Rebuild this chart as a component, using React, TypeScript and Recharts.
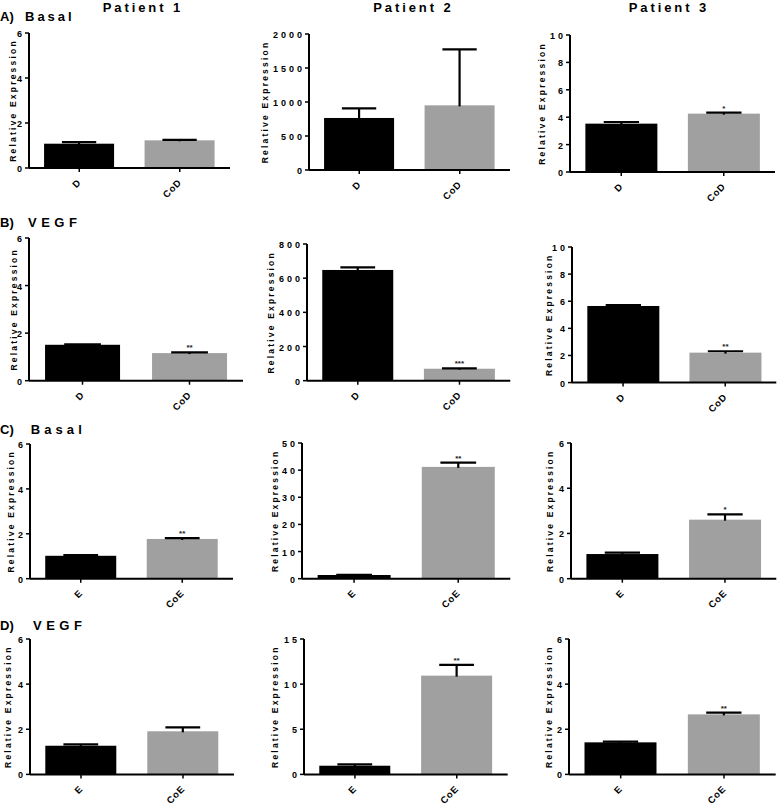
import React from 'react';
import { BarChart, Bar, XAxis, YAxis } from 'recharts';

const FONT = "'Liberation Sans', Arial, Helvetica, sans-serif";

// ---------- text ----------
const patientTitles = ['Patient 1', 'Patient 2', 'Patient 3'];
const rowPrefixes = ['A)', 'B)', 'C)', 'D)'];
const rowTitles = ['Basal', 'VEGF', 'Basal', 'VEGF'];
const yAxisTitle = 'Relative Expression';

// ---------- categories ----------
const categoriesD = ['D', 'CoD'];
const categoriesE = ['E', 'CoE'];

// ---------- Row A: Basal, D vs CoD (Patient 1, 2, 3) ----------
const basalDMean = [[1.08, 1.23], [765, 951], [3.53, 4.26]];
const basalDErr = [[0.07, 0.02], [142, 824], [0.12, 0.07]];
const basalDStars = [['', ''], ['', ''], ['', '*']];
const basalDMax = [6, 2000, 10];
const basalDTicks = [[0, 2, 4, 6], [0, 500, 1000, 1500, 2000], [0, 2, 4, 6, 8, 10]];

// ---------- Row B: VEGF, D vs CoD ----------
const vegfDMean = [[1.51, 1.16], [648, 70], [5.65, 2.21]];
const vegfDErr = [[0.02, 0.03], [15, 2], [0.06, 0.1]];
const vegfDStars = [['', '**'], ['', '***'], ['', '**']];
const vegfDMax = [6, 800, 10];
const vegfDTicks = [[0, 2, 4, 6], [0, 200, 400, 600, 800], [0, 2, 4, 6, 8, 10]];

// ---------- Row C: Basal, E vs CoE ----------
const basalEMean = [[1.02, 1.77], [1.36, 41.2], [1.09, 2.61]];
const basalEErr = [[0.03, 0.04], [0.1, 1.6], [0.06, 0.23]];
const basalEStars = [['', '**'], ['', '**'], ['', '*']];
const basalEMax = [6, 50, 6];
const basalETicks = [[0, 2, 4, 6], [0, 10, 20, 30, 40, 50], [0, 2, 4, 6]];

// ---------- Row D: VEGF, E vs CoE ----------
const vegfEMean = [[1.27, 1.91], [0.96, 10.94], [1.42, 2.66]];
const vegfEErr = [[0.06, 0.17], [0.15, 1.2], [0.03, 0.08]];
const vegfEStars = [['', ''], ['', '**'], ['', '**']];
const vegfEMax = [6, 15, 6];
const vegfETicks = [[0, 2, 4, 6], [0, 5, 10, 15], [0, 2, 4, 6]];

// ---------- styles / layout ----------
const barColors = ['#000000', '#a0a0a0'];
// plot rectangles [left, top, right, bottom] in page px
const plotRects = [
  [[29, 33, 230, 168], [309, 34, 510, 170], [570, 34.7, 775, 171.7]],
  [[29, 238.3, 243, 381], [306.7, 244.3, 510, 381], [571.7, 246.7, 776, 382.3]],
  [[30, 444.3, 233, 579], [301.7, 443.3, 510, 579], [570.7, 443.3, 776, 579]],
  [[30, 639.3, 234, 774.7], [304.3, 639.3, 508, 774.7], [569.3, 639.3, 776, 774.7]],
];
// distance from y axis line to the centre of the rotated y title
const yTitleOffsets = [
  [16, 44, 28],
  [15, 36, 23],
  [19, 27, 21],
  [22, 29, 20],
];
const titleCentersX = [141.5, 412, 667.5];
const rowBaselines = [20.5, 226.5, 434, 630];
const rowWordX = [25, 28, 30.7, 33];
const rowWordSpacing = [3.0, 4.5, 4.1, 4.5];

const rows = [
  { cats: categoriesD, mean: basalDMean, err: basalDErr, stars: basalDStars, max: basalDMax, ticks: basalDTicks },
  { cats: categoriesD, mean: vegfDMean, err: vegfDErr, stars: vegfDStars, max: vegfDMax, ticks: vegfDTicks },
  { cats: categoriesE, mean: basalEMean, err: basalEErr, stars: basalEStars, max: basalEMax, ticks: basalETicks },
  { cats: categoriesE, mean: vegfEMean, err: vegfEErr, stars: vegfEStars, max: vegfEMax, ticks: vegfETicks },
];

const Y_AXIS_W = 50;
const X_AXIS_H = 45;
const M_TOP = 10;
const M_RIGHT = 3;

const BarWithError = (props: any) => {
  const { x, y, width, height, index, payload } = props;
  if (x == null || y == null) return null;
  const v = payload.value;
  const ppu = v ? height / v : 0;
  const errTop = y - payload.err * ppu;
  const cx = x + width / 2;
  const capW = width * 0.49;
  return (
    <g>
      <rect x={x} y={y} width={width} height={height} fill={barColors[index % 2]} />
      <line x1={cx} x2={cx} y1={y + 1} y2={errTop} stroke="#000" strokeWidth={2.2} />
      <line x1={cx - capW / 2} x2={cx + capW / 2} y1={errTop} y2={errTop} stroke="#000" strokeWidth={2.2} />
      {payload.star ? (
        <text
          x={cx}
          y={errTop - 2}
          textAnchor="middle"
          fontSize={8}
          fontWeight="bold"
          fill="#222"
          fontFamily={FONT}
        >
          {payload.star}
        </text>
      ) : null}
    </g>
  );
};

const YTick = (props: any) => {
  const { x, y, payload } = props;
  return (
    <text
      x={x + 3}
      y={y + 1}
      textAnchor="end"
      dominantBaseline="central"
      fontSize={9}
      fontWeight="bold"
      letterSpacing={3}
      fill="#000"
      fontFamily={FONT}
    >
      {payload.value}
    </text>
  );
};

const XTick = (props: any) => {
  const { x, y, payload } = props;
  const px = x + 2.5;
  const py = y + 11;
  return (
    <text
      x={px}
      y={py}
      transform={`rotate(-45, ${px}, ${py})`}
      textAnchor="end"
      fontSize={9.5}
      fontWeight="bold"
      letterSpacing={0.8}
      fill="#000"
      fontFamily={FONT}
    >
      {payload.value}
    </text>
  );
};

const makeYLabel = (offset: number) => (p: any) => {
  const vb = p && p.viewBox;
  if (!vb) return null;
  const lx = vb.x + vb.width - offset;
  const ly = vb.y + vb.height / 2;
  return (
    <text
      x={lx}
      y={ly}
      transform={`rotate(-90, ${lx}, ${ly})`}
      textAnchor="middle"
      dominantBaseline="central"
      fontSize={8.5}
      fontWeight="bold"
      letterSpacing={2.2}
      fill="#000"
      fontFamily={FONT}
    >
      {yAxisTitle}
    </text>
  );
};

const Panel = ({ r, c }: { r: number; c: number }) => {
  const row = rows[r];
  const [pl, pt, pr, pb] = plotRects[r][c];
  const data = row.cats.map((name, i) => ({
    name,
    value: row.mean[c][i],
    err: row.err[c][i],
    star: row.stars[c][i],
  }));
  const width = pr - pl + Y_AXIS_W + M_RIGHT;
  const height = pb - pt + M_TOP + X_AXIS_H;
  return (
    <div style={{ position: 'absolute', left: pl - Y_AXIS_W, top: pt - M_TOP, width, height }}>
      <BarChart
        width={width}
        height={height}
        data={data}
        margin={{ top: M_TOP, right: M_RIGHT, bottom: 0, left: 0 }}
        barCategoryGap="15%"
      >
        <XAxis
          dataKey="name"
          height={X_AXIS_H}
          axisLine={{ stroke: '#000', strokeWidth: 2 }}
          tickLine={{ stroke: '#000', strokeWidth: 1.5 }}
          tickSize={4}
          tickMargin={0}
          tick={<XTick />}
          interval={0}
        />
        <YAxis
          width={Y_AXIS_W}
          domain={[0, row.max[c]]}
          ticks={row.ticks[c]}
          interval={0}
          axisLine={{ stroke: '#000', strokeWidth: 2 }}
          tickLine={{ stroke: '#000', strokeWidth: 1.5 }}
          tickSize={4}
          tickMargin={3}
          tick={<YTick />}
          label={makeYLabel(yTitleOffsets[r][c])}
        />
        <Bar dataKey="value" shape={BarWithError} isAnimationActive={false} />
      </BarChart>
    </div>
  );
};

export default function App() {
  return (
    <div
      style={{
        position: 'absolute',
        left: 0,
        top: 0,
        width: 778,
        height: 806,
        background: '#fff',
        overflow: 'hidden',
        fontFamily: FONT,
      }}
    >
      <svg width={778} height={806} style={{ position: 'absolute', left: 0, top: 0 }}>
        {patientTitles.map((t, i) => (
          <text
            key={t}
            x={titleCentersX[i] + 1.45}
            y={11.7}
            textAnchor="middle"
            fontSize={13}
            fontWeight="bold"
            letterSpacing={2.9}
            fill="#000"
            fontFamily={FONT}
          >
            {t}
          </text>
        ))}
        {rowPrefixes.map((p, i) => (
          <g key={p}>
            <text x={0} y={rowBaselines[i]} fontSize={13} fontWeight="bold" fill="#000" fontFamily={FONT}>
              {p}
            </text>
            <text
              x={rowWordX[i]}
              y={rowBaselines[i]}
              fontSize={13}
              fontWeight="bold"
              letterSpacing={rowWordSpacing[i]}
              fill="#000"
              fontFamily={FONT}
            >
              {rowTitles[i]}
            </text>
          </g>
        ))}
      </svg>
      {rows.map((_, r) => [0, 1, 2].map((c) => <Panel key={`${r}-${c}`} r={r} c={c} />))}
    </div>
  );
}
